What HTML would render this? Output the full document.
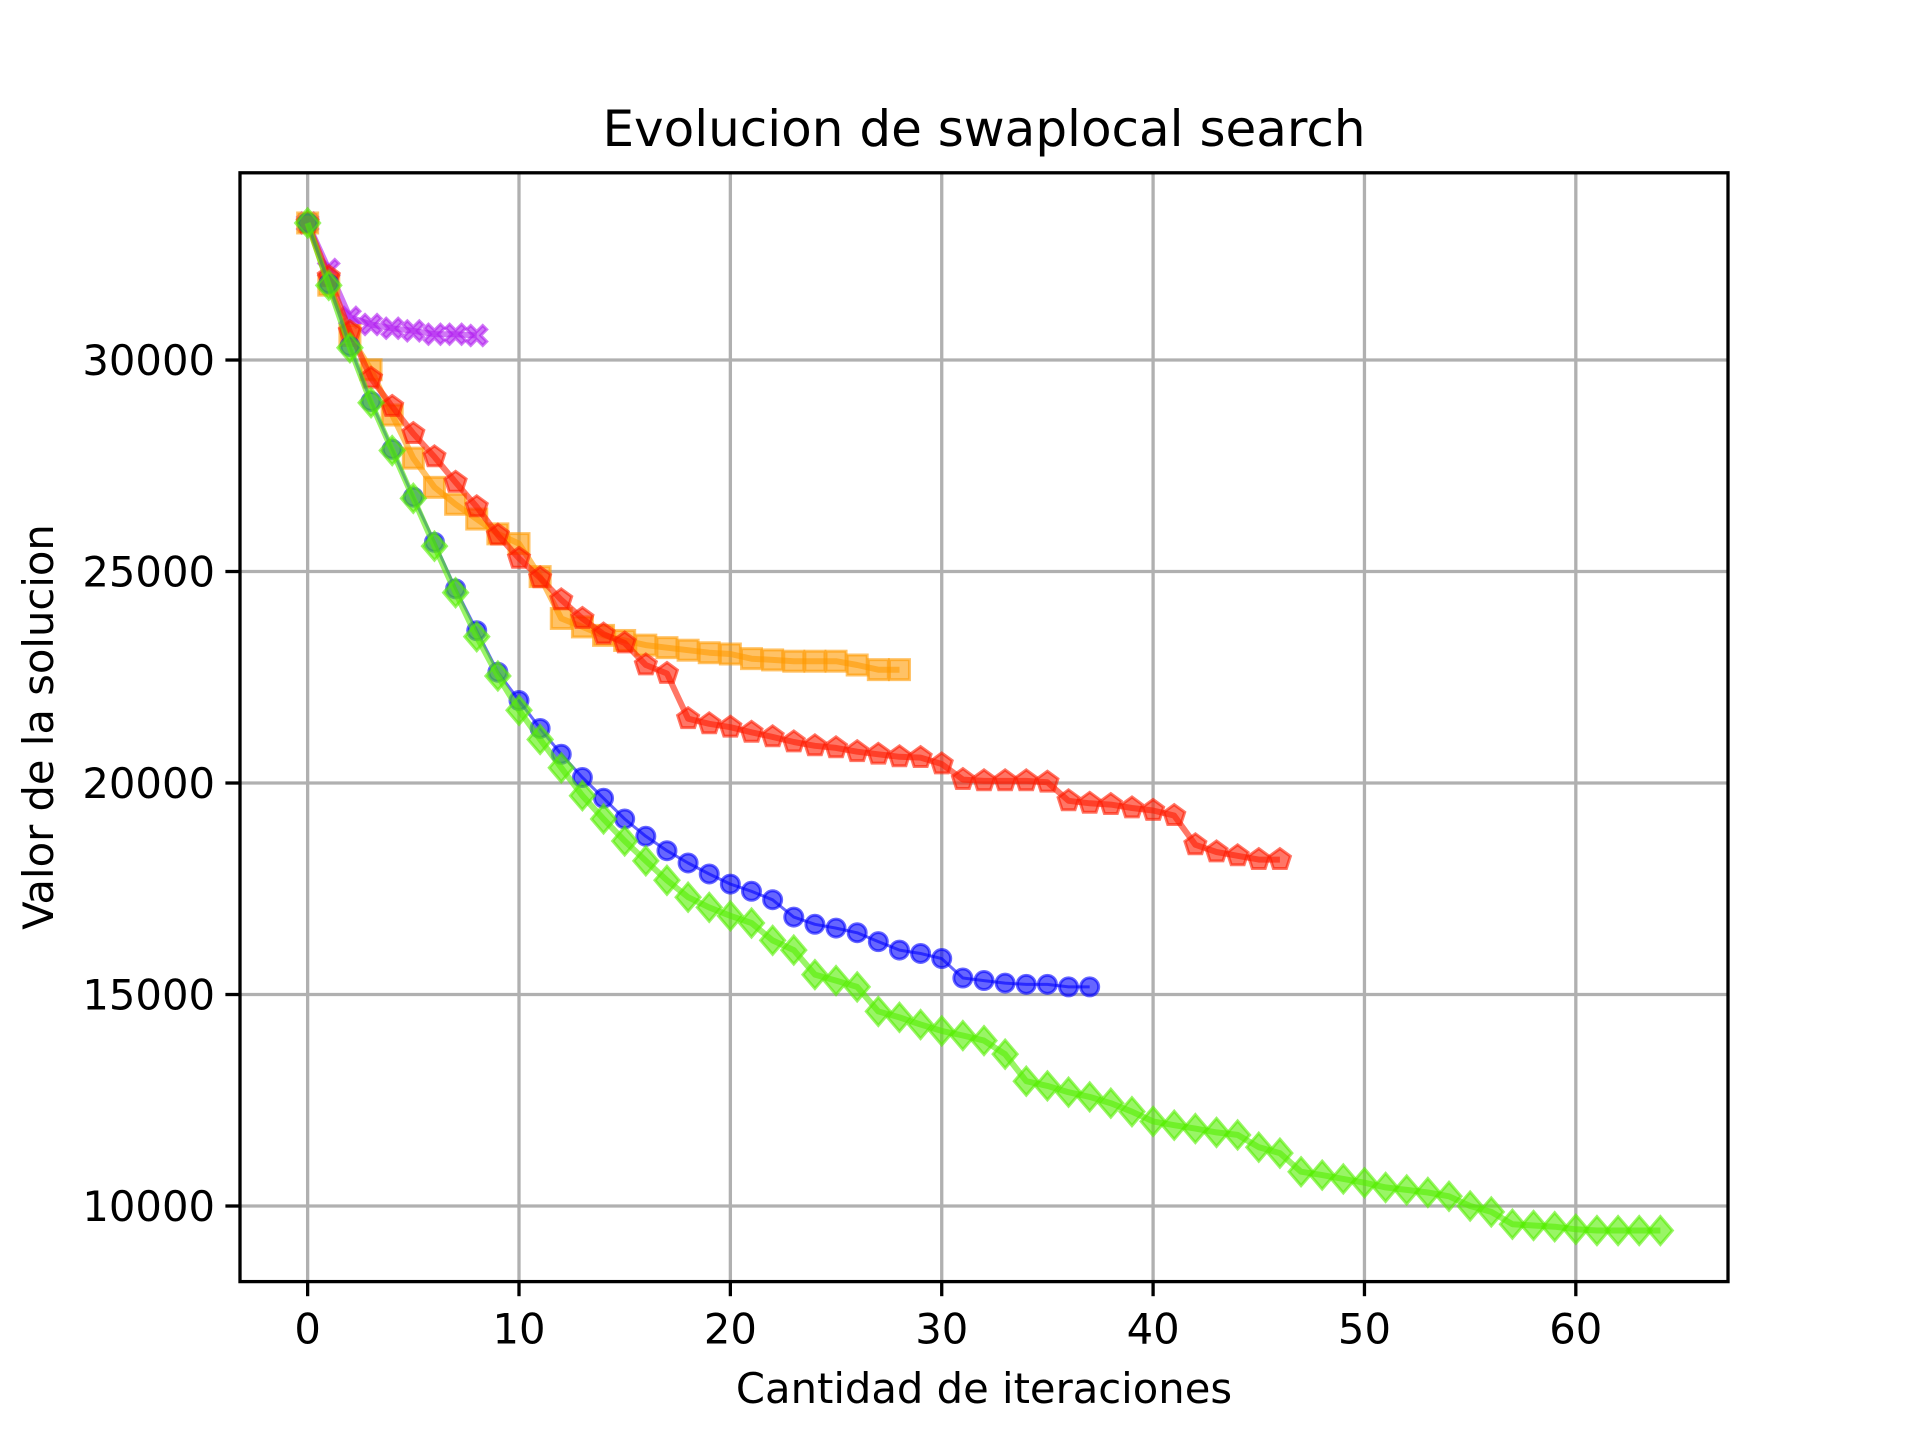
<!DOCTYPE html>
<html><head><meta charset="utf-8"><style>
html,body{margin:0;padding:0;background:#fff;}
svg{display:block;font-family:"DejaVu Sans","Liberation Sans",sans-serif;}
</style></head><body>
<svg id="chart" width="1920" height="1440" viewBox="0 0 1920 1440" xmlns="http://www.w3.org/2000/svg">
<rect width="1920" height="1440" fill="#fff"/>
<g id="grid"></g>
<g id="series"></g>
<rect x="240" y="172.8" width="1488" height="1108.8" fill="none" stroke="#000" stroke-width="3.3"/>
<g id="ticks"></g>
<text x="984" y="146" text-anchor="middle" font-size="50">Evolucion de swaplocal search</text>
<text x="984" y="1403" text-anchor="middle" font-size="41.7">Cantidad de iteraciones</text>
<text transform="translate(53,727) rotate(-90)" text-anchor="middle" font-size="41.7">Valor de la solucion</text>
</svg>
<script>
const xTicks = [0,10,20,30,40,50,60];
const yTicks = [10000,15000,20000,25000,30000];
const purpleVals = [33240,32140,31010,30840,30750,30690,30610,30610,30580];
const orangeVals = [33240,31770,30580,29770,28700,27680,26990,26590,26240,25890,25660,24880,23890,23690,23490,23370,23260,23200,23140,23080,23050,22940,22910,22880,22880,22880,22790,22680,22680];
const redVals = [33240,31970,30670,29570,28900,28260,27710,27110,26530,25860,25310,24850,24330,23890,23520,23310,22790,22590,21520,21400,21320,21200,21090,20970,20880,20830,20740,20680,20620,20600,20450,20080,20050,20050,20050,20020,19580,19520,19490,19410,19350,19230,18540,18370,18280,18190,18190];
const blueVals = [33240,31800,30320,29020,27890,26760,25690,24590,23600,22620,21950,21290,20680,20130,19640,19150,18740,18400,18110,17850,17610,17440,17240,16830,16660,16570,16460,16250,16050,15970,15850,15390,15330,15270,15240,15240,15180,15180];
const greenVals = [33240,31765,30290,28990,27860,26730,25600,24500,23460,22530,21720,21030,20360,19700,19150,18630,18160,17700,17300,17060,16860,16690,16280,16050,15470,15330,15180,14600,14460,14290,14140,14030,13910,13590,12950,12840,12690,12580,12430,12230,12000,11910,11830,11740,11680,11390,11250,10810,10730,10640,10550,10440,10380,10320,10230,10000,9860,9570,9540,9510,9450,9420,9420,9420,9420];

const NS='http://www.w3.org/2000/svg';
const L=240,R=1728,T=172.8,B=1281.6;
const xMin=-3.2,xMax=67.2,yMin=8213,yMax=34426;
function sx(v){return L+(v-xMin)/(xMax-xMin)*(R-L);}
function sy(v){return B-(v-yMin)/(yMax-yMin)*(B-T);}
function mk(tag,attrs,parent){const e=document.createElementNS(NS,tag);for(const k in attrs)e.setAttribute(k,attrs[k]);parent.appendChild(e);return e;}
const grid=document.getElementById('grid'),ticks=document.getElementById('ticks'),series=document.getElementById('series');
xTicks.forEach(t=>{
  const g=mk('line',{x1:sx(t),x2:sx(t),y1:T,y2:B,stroke:'#b0b0b0','stroke-width':3.3},grid);
  
  
  const tk=mk('line',{x1:sx(t),x2:sx(t),y1:B,y2:B+14.6,stroke:'#000','stroke-width':3.3},ticks);
  
  
  const tx=mk('text',{x:sx(t),y:B+62,'text-anchor':'middle','font-size':41.7},ticks);
  tx.textContent=t;
  
  
});
yTicks.forEach(t=>{
  const g=mk('line',{x1:L,x2:R,y1:sy(t),y2:sy(t),stroke:'#b0b0b0','stroke-width':3.3},grid);
  
  
  const tk=mk('line',{x1:L-14.6,x2:L,y1:sy(t),y2:sy(t),stroke:'#000','stroke-width':3.3},ticks);
  
  
  const tx=mk('text',{x:L-25,y:sy(t)+15,'text-anchor':'end','font-size':41.7},ticks);
  tx.textContent=t;
  
  
});
function marker(shape,cx,cy,color,g){
  const s=12;let e;
  const st={fill:color,stroke:color,'stroke-width':3,'fill-opacity':0.6,'stroke-opacity':0.6};
  if(shape==='circle'){e=mk('circle',Object.assign({cx:cx,cy:cy,r:9},st),g);}
  else if(shape==='square'){e=mk('rect',Object.assign({x:cx-10,y:cy-10,width:20,height:20},st),g);}
  else if(shape==='diamond'){e=mk('polygon',Object.assign({points:`${cx},${cy-s-2} ${cx+s},${cy} ${cx},${cy+s+2} ${cx-s},${cy}`},st),g);}
  else if(shape==='pentagon'){let p=[];for(let i=0;i<5;i++){const a=-Math.PI/2+i*2*Math.PI/5;p.push((cx+11*Math.cos(a)).toFixed(1)+','+(cy+11*Math.sin(a)).toFixed(1));}e=mk('polygon',Object.assign({points:p.join(' ')},st),g);}
  else {const d=10,w=4;e=mk('path',Object.assign({d:`M${cx-d},${cy-d+w}L${cx-d+w},${cy-d}L${cx},${cy-w}L${cx+d-w},${cy-d}L${cx+d},${cy-d+w}L${cx+w},${cy}L${cx+d},${cy+d-w}L${cx+d-w},${cy+d}L${cx},${cy+w}L${cx-d+w},${cy+d}L${cx-d},${cy+d-w}L${cx-w},${cy}Z`},st),g);}
  
  
}
function drawSeries(vals,color,shape,name,lw){
  const g=mk('g',{},series);
  
  
  const pts=vals.map((v,i)=>sx(i).toFixed(1)+','+sy(v).toFixed(1)).join(' ');
  const pl=mk('polyline',{points:pts,fill:'none',stroke:color,'stroke-width':lw,'stroke-opacity':0.6,'stroke-linejoin':'round'},g);
  
  
  vals.forEach((v,i)=>marker(shape,sx(i),sy(v),color,g));
}
drawSeries(purpleVals,'#b01cf0','x','series-purple',6);
drawSeries(orangeVals,'#ff9900','square','series-orange',6);
drawSeries(redVals,'#ff1a00','pentagon','series-red',6);
drawSeries(blueVals,'#0000ff','circle','series-blue',3);
drawSeries(greenVals,'#55ee00','diamond','series-green',6);
</script>
</body></html>
